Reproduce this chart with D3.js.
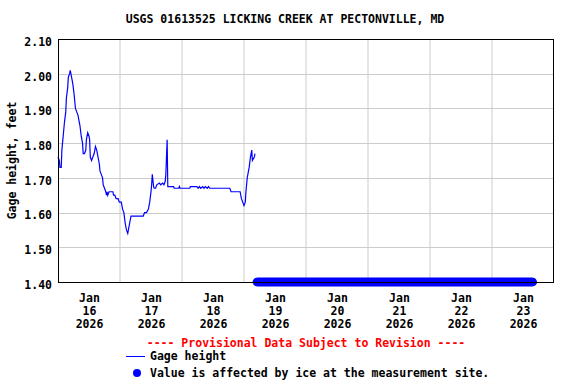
<!DOCTYPE html>
<html>
<head>
<meta charset="utf-8">
<script src="https://cdn.jsdelivr.net/npm/d3@7"></script>
<style>
  body { margin: 0; background: #fff; }
  text { font-family: "DejaVu Sans Mono", monospace; font-weight: bold; font-size: 11.5px; }
</style>
</head>
<body>
<div id="chart"></div>
<script>
const title = 'USGS 01613525 LICKING CREEK AT PECTONVILLE, MD';

// gage height readings (time, feet)
const gageTimes = [
  '2026-01-16T00:00', '2026-01-16T00:30', '2026-01-16T00:45', '2026-01-16T01:15', '2026-01-16T01:30',
  '2026-01-16T02:00', '2026-01-16T02:30', '2026-01-16T03:00', '2026-01-16T03:15', '2026-01-16T03:45',
  '2026-01-16T04:00', '2026-01-16T04:30', '2026-01-16T04:45', '2026-01-16T05:15', '2026-01-16T05:45',
  '2026-01-16T06:15', '2026-01-16T06:45', '2026-01-16T07:15', '2026-01-16T07:45', '2026-01-16T08:30',
  '2026-01-16T09:00', '2026-01-16T09:30', '2026-01-16T09:45', '2026-01-16T10:15', '2026-01-16T10:45',
  '2026-01-16T11:00', '2026-01-16T11:30', '2026-01-16T12:00', '2026-01-16T12:15', '2026-01-16T12:30',
  '2026-01-16T13:00', '2026-01-16T13:30', '2026-01-16T14:00', '2026-01-16T14:30', '2026-01-16T15:00',
  '2026-01-16T15:30', '2026-01-16T16:00', '2026-01-16T16:15', '2026-01-16T16:45', '2026-01-16T17:15',
  '2026-01-16T17:30', '2026-01-16T18:00', '2026-01-16T18:30', '2026-01-16T18:45', '2026-01-16T19:00',
  '2026-01-16T19:15', '2026-01-16T19:45', '2026-01-16T21:15', '2026-01-16T21:30', '2026-01-16T22:00',
  '2026-01-16T22:30', '2026-01-16T23:15', '2026-01-16T23:45', '2026-01-17T00:30', '2026-01-17T00:45',
  '2026-01-17T01:00', '2026-01-17T01:30', '2026-01-17T02:00', '2026-01-17T02:30', '2026-01-17T03:00',
  '2026-01-17T03:15', '2026-01-17T03:45', '2026-01-17T04:15', '2026-01-17T04:30', '2026-01-17T09:00',
  '2026-01-17T09:30', '2026-01-17T10:15', '2026-01-17T11:00', '2026-01-17T11:30', '2026-01-17T12:00',
  '2026-01-17T12:15', '2026-01-17T12:30', '2026-01-17T13:00', '2026-01-17T13:15', '2026-01-17T13:45',
  '2026-01-17T14:15', '2026-01-17T15:15', '2026-01-17T15:45', '2026-01-17T16:30', '2026-01-17T17:00',
  '2026-01-17T17:30', '2026-01-17T17:45', '2026-01-17T18:00', '2026-01-17T18:15', '2026-01-17T18:30',
  '2026-01-17T20:45', '2026-01-17T21:00', '2026-01-17T22:45', '2026-01-17T23:00', '2026-01-17T23:15',
  '2026-01-18T03:00', '2026-01-18T03:15', '2026-01-18T05:45', '2026-01-18T06:15', '2026-01-18T06:45',
  '2026-01-18T07:15', '2026-01-18T08:00', '2026-01-18T08:30', '2026-01-18T09:00', '2026-01-18T09:45',
  '2026-01-18T10:15', '2026-01-18T10:45', '2026-01-18T18:30', '2026-01-18T19:00', '2026-01-18T22:30',
  '2026-01-18T23:00', '2026-01-18T23:30', '2026-01-19T00:00', '2026-01-19T00:30', '2026-01-19T00:45',
  '2026-01-19T01:15', '2026-01-19T02:00', '2026-01-19T02:30', '2026-01-19T03:00', '2026-01-19T03:15',
  '2026-01-19T04:00', '2026-01-19T04:15',
];
const gageValues = [
  1.76, 1.75, 1.73, 1.73, 1.78,
  1.82, 1.86, 1.89, 1.93, 1.96,
  1.99, 2.00, 2.01, 1.99, 1.97,
  1.94, 1.90, 1.89, 1.88, 1.85,
  1.82, 1.80, 1.77, 1.77, 1.78,
  1.81, 1.83, 1.82, 1.81, 1.76,
  1.75, 1.76, 1.77, 1.79, 1.78,
  1.76, 1.74, 1.72, 1.71, 1.70,
  1.68, 1.67, 1.66, 1.65, 1.66,
  1.65, 1.66, 1.66, 1.65, 1.65,
  1.64, 1.64, 1.63, 1.63, 1.62,
  1.61, 1.60, 1.57, 1.55, 1.54,
  1.55, 1.57, 1.59, 1.59, 1.59,
  1.60, 1.60, 1.61, 1.63, 1.66,
  1.68, 1.71, 1.675, 1.67, 1.67,
  1.68, 1.685, 1.68, 1.685, 1.68,
  1.69, 1.71, 1.76, 1.81, 1.675,
  1.675, 1.67, 1.67, 1.675, 1.67,
  1.67, 1.675, 1.675, 1.67, 1.675,
  1.67, 1.675, 1.67, 1.675, 1.67,
  1.675, 1.67, 1.67, 1.66, 1.66,
  1.64, 1.63, 1.62, 1.63, 1.66,
  1.70, 1.73, 1.76, 1.78, 1.75,
  1.76, 1.77,
];

// period flagged "Ice" (start, end)
const icePeriod = ['2026-01-19T05:00', '2026-01-23T16:00'];

const yTicks = [1.40, 1.50, 1.60, 1.70, 1.80, 1.90, 2.00, 2.10];
const dayLabels = ['2026-01-16', '2026-01-17', '2026-01-18', '2026-01-19',
  '2026-01-20', '2026-01-21', '2026-01-22', '2026-01-23'];
const xDomain = ['2026-01-16T00:00', '2026-01-24T00:00'];

const parse = d3.timeParse('%Y-%m-%dT%H:%M');
const parseDay = d3.timeParse('%Y-%m-%d');

const width = 576;
const height = 384;
const margin = { top: 39, right: 22, bottom: 102, left: 58 };
const plotW = width - margin.left - margin.right;
const plotH = height - margin.top - margin.bottom;

const svg = d3.select('#chart').append('svg')
  .attr('width', width)
  .attr('height', height);

const x = d3.scaleTime()
  .domain(xDomain.map(parse))
  .range([margin.left, margin.left + plotW]);
const y = d3.scaleLinear()
  .domain([1.4, 2.1])
  .range([margin.top + plotH, margin.top]);

svg.append('text')
  .attr('x', 285)
  .attr('y', 23)
  .attr('text-anchor', 'middle')
  .text(title);

// grid
const days = dayLabels.map(parseDay);
svg.append('g')
  .selectAll('line')
  .data(days.slice(1))
  .enter()
  .append('line')
  .attr('x1', d => x(d))
  .attr('x2', d => x(d))
  .attr('y1', margin.top)
  .attr('y2', margin.top + plotH)
  .attr('stroke', '#cccccc');
svg.append('g')
  .selectAll('line')
  .data(yTicks.slice(1, -1))
  .enter()
  .append('line')
  .attr('x1', margin.left)
  .attr('x2', margin.left + plotW)
  .attr('y1', d => Math.round(y(d)) + 0.5)
  .attr('y2', d => Math.round(y(d)) + 0.5)
  .attr('stroke', '#cccccc');

// y axis labels
const yAxis = svg.append('g')
  .attr('transform', `translate(${margin.left},0)`)
  .call(d3.axisLeft(y).tickValues(yTicks).tickFormat(d3.format('.2f')).tickSize(0).tickPadding(6));
yAxis.select('.domain').remove();
yAxis.selectAll('text')
  .attr('fill', '#000')
  .attr('dy', '0.55em')
  .style('font-family', '"DejaVu Sans Mono", monospace')
  .style('font-size', '11.5px')
  .style('font-weight', 'bold');

svg.append('text')
  .attr('transform', `translate(16,${margin.top + plotH / 2}) rotate(-90)`)
  .attr('text-anchor', 'middle')
  .text('Gage height, feet');

// x axis labels, centred on each day
const noon = days.map(d => d3.timeHour.offset(d, 12));
const xAxis = svg.append('g')
  .attr('transform', `translate(0,${margin.top + plotH})`)
  .call(d3.axisBottom(x).tickValues(noon).tickSize(0).tickFormat(''));
xAxis.select('.domain').remove();
xAxis.selectAll('.tick text').remove();
const fmtDay = d3.timeFormat('%d');
xAxis.selectAll('.tick')
  .append('text')
  .attr('text-anchor', 'middle')
  .attr('fill', '#000')
  .selectAll('tspan')
  .data(d => ['Jan', fmtDay(d), '2026'])
  .enter()
  .append('tspan')
  .attr('x', 0)
  .attr('y', (d, i) => 20 + i * 13)
  .text(d => d);

// ice flags
const ice = d3.timeMinute.every(15).range(parse(icePeriod[0]), parse(icePeriod[1]));
svg.append('g')
  .selectAll('circle')
  .data(ice)
  .enter()
  .append('circle')
  .attr('cx', d => x(d))
  .attr('cy', y(1.4))
  .attr('r', 4.3)
  .attr('fill', '#0000ff');

// gage height line
const gage = gageTimes.map((t, i) => ({ date: parse(t), value: gageValues[i] }));
svg.append('path')
  .datum(gage)
  .attr('fill', 'none')
  .attr('stroke', '#0000ff')
  .attr('stroke-width', 1.2)
  .attr('d', d3.line().x(d => x(d.date)).y(d => y(d.value)));

// frame
svg.append('rect')
  .attr('x', margin.left + 0.5)
  .attr('y', margin.top + 0.5)
  .attr('width', plotW - 1)
  .attr('height', plotH)
  .attr('fill', 'none')
  .attr('stroke', '#000');

// legend
svg.append('text')
  .attr('x', 306)
  .attr('y', 347)
  .attr('text-anchor', 'middle')
  .attr('fill', '#ff0000')
  .text('---- Provisional Data Subject to Revision ----');
svg.append('line')
  .attr('x1', 126)
  .attr('x2', 145)
  .attr('y1', 356.5)
  .attr('y2', 356.5)
  .attr('stroke', '#0000ff');
svg.append('text')
  .attr('x', 150)
  .attr('y', 360)
  .text('Gage height');
svg.append('circle')
  .attr('cx', 137)
  .attr('cy', 373)
  .attr('r', 4)
  .attr('fill', '#0000ff');
svg.append('text')
  .attr('x', 150)
  .attr('y', 377)
  .text('Value is affected by ice at the measurement site.');
</script>
</body>
</html>
